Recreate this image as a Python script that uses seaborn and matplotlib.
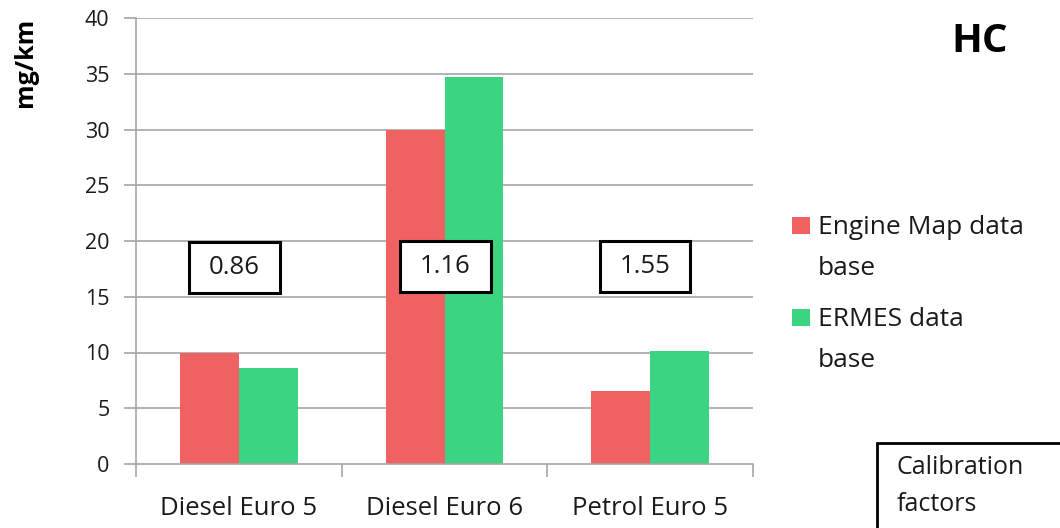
import matplotlib
matplotlib.use("Agg")
import matplotlib.pyplot as plt
from matplotlib.patches import Rectangle
import seaborn as sns
import pandas as pd

categories = ["Diesel Euro 5", "Diesel Euro 6", "Petrol Euro 5"]
series_names = ["Engine Map data\nbase", "ERMES data\nbase"]
engine_map = [10.0, 30.0, 6.55]
ermes = [8.6, 34.7, 10.15]
calibration_factors = ["0.86", "1.16", "1.55"]
y_ticks = [0, 5, 10, 15, 20, 25, 30, 35, 40]
colors = ["#F06262", "#3AD482"]

df = pd.DataFrame({
    "category": categories * 2,
    "series": [series_names[0]] * 3 + [series_names[1]] * 3,
    "value": engine_map + ermes,
})

sns.set_theme(style="white")
plt.rcParams["font.family"] = ["Open Sans", "DejaVu Sans"]
txt_c = "#1A1A1A"

W, H = 1060, 528
fig = plt.figure(figsize=(W / 100, H / 100), dpi=100)
ax = fig.add_axes([136 / W, 1 - 464 / H, (753 - 136) / W, (464 - 18) / H])

sns.barplot(data=df, x="category", y="value", hue="series",
            palette=colors, width=0.573, saturation=1, ax=ax,
            order=categories, hue_order=series_names, linewidth=0,
            legend=False)

ax.set_ylim(0, 40)
ax.set_yticks(y_ticks)
ax.set_xlim(-0.5, 2.5)
ax.set_xlabel("")
ax.set_ylabel("")
grid_c = "#A6A6A6"
for yv in y_ticks[1:]:
    ax.axhline(yv, color=grid_c, lw=1.2, zorder=0)
ax.set_axisbelow(True)
for s in ["top", "right"]:
    ax.spines[s].set_visible(False)
for s in ["left", "bottom"]:
    ax.spines[s].set_color(grid_c)
    ax.spines[s].set_linewidth(1.2)

ax.tick_params(axis="y", length=9, width=1.2, color=grid_c, labelsize=15.5,
               labelcolor=txt_c, pad=10, left=True)
ax.tick_params(axis="x", length=0, labelsize=18.5, labelcolor=txt_c, pad=23)
# category boundary ticks on the x axis
ax.set_xticks([-0.5, 0.5, 1.5, 2.5], minor=True)
ax.tick_params(axis="x", which="minor", length=9, width=1.2, color=grid_c,
               bottom=True)

# calibration factor boxes above each category
box_w, box_h = 0.44, 4.58
box_x = [-0.022, 1.005, 1.976]
box_y = [17.64, 17.7, 17.75]
for xc, yc, lbl in zip(box_x, box_y, calibration_factors):
    ax.add_patch(Rectangle((xc - box_w / 2, yc - box_h / 2), box_w, box_h,
                           fc="white", ec="black", lw=2.2, zorder=5))
    ax.text(xc, yc, lbl, ha="center", va="center", fontsize=18.5,
            color=txt_c, zorder=6)

# legend: colour square beside each wrapped series name
leg_y = [225, 317]
for col, name, yc in zip(colors, series_names, leg_y):
    fig.patches.append(Rectangle((792 / W, 1 - (yc + 8.5) / H), 18 / W,
                                 17 / H, transform=fig.transFigure,
                                 fc=col, ec="none"))
    fig.text(818 / W, 1 - (yc - 10) / H, name, fontsize=19, ha="left",
             va="top", color=txt_c, linespacing=1.82)

fig.text(980 / W, 1 - 42 / H, "HC", fontsize=29, fontweight="bold",
         ha="center", va="center", color="black")
fig.text(25 / W, 1 - 62 / H, "mg/km", fontsize=18, fontweight="bold",
         rotation=90, ha="center", va="center", color="black")

# "Calibration factors" key box
fig.patches.append(Rectangle((877 / W, -0.02), 0.2, 1 - 443 / H + 0.02,
                             transform=fig.transFigure, fill=False,
                             ec="black", lw=2))
fig.text(897 / W, 1 - 486 / H, "Calibration\nfactors", fontsize=18,
         ha="left", va="center", color=txt_c, linespacing=1.58)

fig.savefig("out.png", dpi=100)
